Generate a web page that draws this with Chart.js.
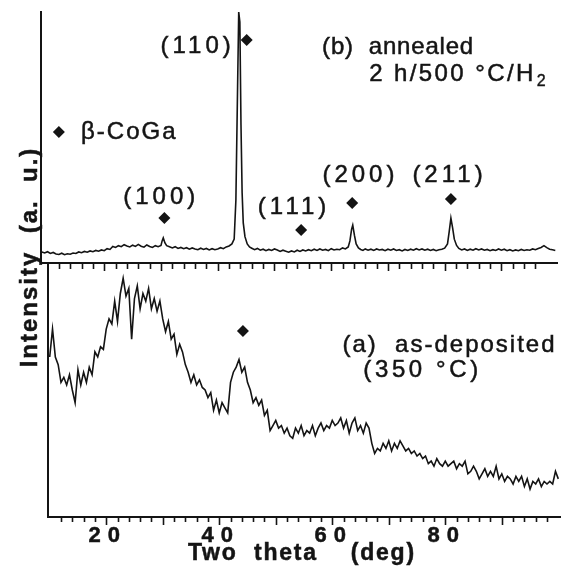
<!DOCTYPE html>
<html>
<head>
<meta charset="utf-8">
<script src="https://cdn.jsdelivr.net/npm/chart.js@4.4.1/dist/chart.umd.min.js"></script>
<style>
  html, body { margin: 0; padding: 0; background: #fff; }
  #wrap { position: relative; width: 562px; height: 567px; }
  #wrap canvas { position: absolute; left: 0; top: 0; }
</style>
</head>
<body>
<div id="wrap">
  <canvas id="bottom" width="562" height="567"></canvas>
  <canvas id="top" width="562" height="567"></canvas>
</div>
<script>
// (b) annealed 2 h/500 C/H2 - two theta (deg) and intensity (a. u.)
const topTheta = [
  9.0, 9.5, 10.0, 10.5, 11.0, 11.5, 12.0, 12.5, 13.0, 13.5, 14.0, 14.5, 15.0, 15.5, 16.0, 16.5,
  17.0, 17.5, 18.0, 18.5, 19.0, 19.5, 20.0, 20.5, 21.0, 21.5, 22.0, 22.5, 23.0, 23.5, 24.0, 24.5,
  25.0, 25.5, 26.0, 26.5, 27.0, 27.5, 28.0, 28.5, 29.0, 29.5, 30.0, 30.2, 30.4, 30.7, 31.0, 31.5,
  32.0, 32.5, 33.0, 33.5, 34.0, 34.5, 35.0, 35.5, 36.0, 36.5, 37.0, 37.5, 38.0, 38.5, 39.0, 39.5,
  40.0, 40.5, 41.0, 41.5, 42.0, 42.5, 42.9, 43.2, 43.5, 43.7, 43.9, 44.1, 44.3, 44.5, 44.8, 45.2,
  45.6, 46.0, 46.5, 47.0, 47.5, 48.0, 48.5, 49.0, 49.5, 50.0, 50.5, 51.0, 51.5, 52.0, 52.5, 53.0,
  53.5, 54.0, 54.5, 55.0, 55.5, 56.0, 56.5, 57.0, 57.5, 58.0, 58.5, 59.0, 59.5, 60.0, 60.5, 61.0,
  61.5, 62.0, 62.5, 63.0, 63.3, 63.6, 63.8, 64.1, 64.4, 64.8, 65.2, 65.6, 66.0, 66.5, 67.0, 67.5,
  68.0, 68.5, 69.0, 69.5, 70.0, 70.5, 71.0, 71.5, 72.0, 72.5, 73.0, 73.5, 74.0, 74.5, 75.0, 75.5,
  76.0, 76.5, 77.0, 77.5, 78.0, 78.5, 79.0, 79.5, 80.0, 80.5, 80.8, 81.1, 81.4, 81.7, 82.1, 82.5,
  83.0, 83.5, 84.0, 84.5, 85.0, 85.5, 86.0, 86.5, 87.0, 87.5, 88.0, 88.5, 89.0, 89.5, 90.0, 90.5,
  91.0, 91.5, 92.0, 92.5, 93.0, 93.5, 94.0, 94.5, 95.0, 95.5, 96.0, 96.5, 97.0, 97.5, 98.0, 98.5,
  99.0, 99.5
];
const topCounts = [
  4.4, 4.0, 4.5, 3.8, 4.2, 3.6, 3.4, 3.9, 3.3, 3.7, 3.5, 4.0, 3.8, 4.4, 4.1, 4.6,
  4.3, 4.8, 4.5, 5.0, 4.7, 5.2, 4.9, 5.7, 5.4, 6.6, 6.2, 6.9, 6.5, 7.3, 6.8, 6.4,
  7.1, 6.6, 7.4, 6.7, 6.3, 7.2, 6.6, 6.2, 6.9, 6.5, 7.0, 8.8, 10.0, 8.0, 6.9, 6.5,
  6.0, 6.5, 5.8, 6.2, 5.7, 6.1, 5.5, 6.0, 5.6, 5.3, 5.9, 5.4, 5.8, 5.2, 5.7, 5.3,
  5.6, 6.1, 5.7, 6.4, 6.8, 7.6, 9.5, 25, 70, 100, 96, 55, 28, 16, 10.5, 7.6,
  6.4, 5.9, 5.3, 5.8, 5.1, 5.5, 4.9, 5.4, 5.0, 5.6, 5.2, 4.6, 5.1, 4.7, 4.3, 4.8,
  4.4, 5.1, 4.6, 5.2, 4.8, 5.3, 4.9, 5.5, 5.0, 5.6, 5.1, 5.4, 4.9, 5.7, 5.2, 5.5,
  5.3, 6.0, 5.6, 6.4, 8.8, 13.5, 15.1, 11.0, 7.6, 6.0, 5.4, 5.0, 5.6, 5.1, 5.5, 5.0,
  5.6, 5.2, 5.4, 4.9, 5.5, 5.1, 5.6, 5.0, 5.3, 4.8, 5.4, 5.0, 5.5, 5.1, 5.7, 5.2,
  5.6, 5.1, 5.5, 5.0, 5.4, 4.9, 5.3, 5.5, 5.9, 7.6, 12.5, 17.9, 14.0, 9.5, 7.0, 5.8,
  5.2, 5.6, 5.0, 5.5, 5.1, 5.7, 5.2, 5.6, 5.1, 5.4, 4.9, 5.3, 5.0, 5.6, 5.1, 5.5,
  4.9, 5.3, 4.8, 5.2, 4.9, 5.4, 5.0, 5.3, 5.1, 5.6, 5.3, 5.8, 6.2, 6.9, 6.1, 5.5,
  5.3, 5.0
];
// beta-CoGa reflection markers (diamonds) in panel (b)
const topMarkTheta = [12.0, 30.6, 45.1, 54.7, 63.7, 81.1];
const topMarkLevel = [52.2, 17.9, 88.8, 13.1, 23.9, 25.5];

// (a) as-deposited (350 C)
const bottomTheta = [
  10.0, 10.5, 11.0, 11.5, 12.0, 12.5, 13.0, 13.5, 14.0, 14.5, 15.0, 15.5, 16.0, 16.5, 17.0, 17.5,
  18.0, 18.5, 19.0, 19.5, 20.0, 20.5, 21.0, 21.5, 22.0, 22.5, 23.0, 23.5, 24.0, 24.5, 25.0, 25.5,
  26.0, 26.5, 27.0, 27.5, 28.0, 28.5, 29.0, 29.5, 30.0, 30.5, 31.0, 31.5, 32.0, 32.5, 33.0, 33.5,
  34.0, 34.5, 35.0, 35.5, 36.0, 36.5, 37.0, 37.5, 38.0, 38.5, 39.0, 39.5, 40.0, 40.5, 41.0, 41.5,
  42.0, 42.5, 43.0, 43.5, 44.0, 44.5, 45.0, 45.5, 46.0, 46.5, 47.0, 47.5, 48.0, 48.5, 49.0, 49.5,
  50.0, 50.5, 51.0, 51.5, 52.0, 52.5, 53.0, 53.5, 54.0, 54.5, 55.0, 55.5, 56.0, 56.5, 57.0, 57.5,
  58.0, 58.5, 59.0, 59.5, 60.0, 60.5, 61.0, 61.5, 62.0, 62.5, 63.0, 63.5, 64.0, 64.5, 65.0, 65.5,
  66.0, 66.5, 67.0, 67.5, 68.0, 68.5, 69.0, 69.5, 70.0, 70.5, 71.0, 71.5, 72.0, 72.5, 73.0, 73.5,
  74.0, 74.5, 75.0, 75.5, 76.0, 76.5, 77.0, 77.5, 78.0, 78.5, 79.0, 79.5, 80.0, 80.5, 81.0, 81.5,
  82.0, 82.5, 83.0, 83.5, 84.0, 84.5, 85.0, 85.5, 86.0, 86.5, 87.0, 87.5, 88.0, 88.5, 89.0, 89.5,
  90.0, 90.5, 91.0, 91.5, 92.0, 92.5, 93.0, 93.5, 94.0, 94.5, 95.0, 95.5, 96.0, 96.5, 97.0, 97.5,
  98.0, 98.5, 99.0, 99.5, 100.0
];
const bottomCounts = [
  63, 74, 63, 60, 53, 55, 52, 56, 50, 45, 58, 52, 57, 53, 59, 56,
  65, 63, 67, 66, 74, 78, 76, 85, 77, 88, 94, 87, 90, 70, 86, 91,
  82, 88, 85, 90, 82, 86, 81, 85, 78, 73, 77, 70, 72, 64, 68, 65,
  60, 57, 53, 56, 52, 54, 51, 50, 47, 49, 42, 46, 41, 45, 43, 41,
  53, 57, 59, 62, 57, 59, 53, 50, 45, 47, 44, 46, 40, 42, 34, 36,
  38, 35, 36, 33, 35, 32, 31, 35, 33, 36, 32, 34, 33, 36, 32, 35,
  37, 34, 36, 35, 38, 36, 37, 39, 35, 38, 33, 37, 39, 34, 36, 33,
  37, 35, 29, 25, 27, 26, 29, 27, 30, 26, 29, 27, 30, 28, 26, 27,
  25, 26, 24, 25, 23, 24, 21, 22, 20, 23, 21, 20, 22, 20, 21, 22,
  19, 21, 20, 22, 17, 18, 20, 18, 15, 17, 19, 16, 18, 16, 20, 15,
  17, 14, 16, 15, 13, 16, 14, 16, 12, 15, 11, 14, 13, 15, 12, 14,
  13, 14, 13, 18, 15
];
const bottomMarkTheta = [44.2];
const bottomMarkLevel = [73.2];

// annotation texts, placed in data units
const topLabelText = ['(110)', '(b)  annealed', '2 h/500 °C/H', 'β-CoGa', '(100)', '(111)', '(200)', '(211)'];
const topLabelSub = ['', '', '2', '', '', '', '', ''];
const topLabelTheta = [42.3, 58.4, 66.7, 15.9, 29.7, 53.1, 64.8, 80.5];
const topLabelLevel = [86.5, 86.1, 75.3, 52.2, 26.3, 22.3, 35.1, 35.1];
const topLabelAlign = ['right', 'left', 'left', 'left', 'center', 'center', 'center', 'center'];
const topLabelSpacing = [4, 0.8, 2.4, 2, 4, 4, 4, 4];

const bottomLabelText = ['(a)  as-deposited', '(350 °C)'];
const bottomLabelSub = ['', ''];
const bottomLabelTheta = [61.8, 65.5];
const bottomLabelLevel = [67.7, 57.9];
const bottomLabelAlign = ['left', 'left'];
const bottomLabelSpacing = [2, 3.6];

const xTickLabels = [20, 40, 60, 80];

const INK = '#141414';
const FONT = '"Liberation Sans", Arial, Helvetica, sans-serif';

function toPoints(xs, ys) {
  return xs.map((x, i) => ({ x: x, y: ys[i] }));
}

function inkText(ctx, t, x, y, weight) {
  ctx.fillText(t, x, y);
  ctx.lineWidth = weight;
  ctx.strokeText(t, x, y);
}

// draws text labels at data positions
function labelPlugin(texts, subs, thetas, levels, aligns, spacings) {
  return {
    id: 'labels',
    afterDatasetsDraw(chart) {
      const ctx = chart.ctx, xs = chart.scales.x, ys = chart.scales.y;
      ctx.save();
      ctx.fillStyle = INK;
      ctx.strokeStyle = INK;
      ctx.textBaseline = 'middle';
      ctx.textAlign = 'left';
      texts.forEach((t, i) => {
        ctx.font = '24px ' + FONT;
        ctx.letterSpacing = spacings[i] + 'px';
        const w = ctx.measureText(t).width - spacings[i];
        let subW = 0;
        if (subs[i]) {
          ctx.font = '16px ' + FONT;
          subW = ctx.measureText(subs[i]).width + 1;
          ctx.font = '24px ' + FONT;
        }
        const total = w + subW;
        const px = xs.getPixelForValue(thetas[i]);
        const py = ys.getPixelForValue(levels[i]);
        let x0 = px;
        if (aligns[i] === 'right') x0 = px - total;
        if (aligns[i] === 'center') x0 = px - total / 2;
        inkText(ctx, t, x0, py, 0.5);
        if (subs[i]) {
          ctx.font = '16px ' + FONT;
          ctx.letterSpacing = '0px';
          inkText(ctx, subs[i], x0 + w + spacings[i] + 1, py + 8, 0.4);
        }
      });
      ctx.restore();
    }
  };
}

// minor ticks every 2 deg, longer ones every 10 deg
function tickPlugin(minorLen, majorLen) {
  return {
    id: 'ticks',
    afterDraw(chart) {
      const ctx = chart.ctx, xs = chart.scales.x;
      const y0 = chart.chartArea.bottom;
      ctx.save();
      ctx.strokeStyle = INK;
      ctx.lineWidth = 1.6;
      xs.ticks.forEach(t => {
        const v = Math.round(t.value * 10) / 10;
        if (v % 2 !== 0) return;
        const px = Math.round(xs.getPixelForValue(v)) + 0.5;
        const len = v % 10 === 0 ? majorLen : minorLen;
        ctx.beginPath();
        ctx.moveTo(px, y0);
        ctx.lineTo(px, y0 + len);
        ctx.stroke();
      });
      ctx.restore();
    }
  };
}

const axisTitlePlugin = {
  id: 'axisTitles',
  afterDraw(chart) {
    const ctx = chart.ctx, xs = chart.scales.x, area = chart.chartArea;
    ctx.save();
    ctx.fillStyle = INK;
    ctx.strokeStyle = INK;
    ctx.font = 'bold 22px ' + FONT;
    ctx.textBaseline = 'middle';
    ctx.textAlign = 'left';
    ctx.letterSpacing = '7px';
    xTickLabels.forEach(v => {
      const t = String(v);
      const w = ctx.measureText(t).width - 7;
      inkText(ctx, t, xs.getPixelForValue(v) - w / 2 - 2, area.bottom + 19, 0.5);
    });
    ctx.font = 'bold 23px ' + FONT;
    ctx.letterSpacing = '1.8px';
    const title = 'Two  theta    (deg)';
    const tw = ctx.measureText(title).width - 1.8;
    inkText(ctx, title, (area.left + area.right) / 2 - tw / 2 - 3, area.bottom + 37, 0.5);

    ctx.font = 'bold 24px ' + FONT;
    ctx.letterSpacing = '2px';
    const yt = 'Intensity  (a.  u.)';
    const yw = ctx.measureText(yt).width - 2;
    ctx.translate(37, 258);
    ctx.rotate(-Math.PI / 2);
    ctx.textBaseline = 'alphabetic';
    inkText(ctx, yt, -yw / 2, 0, 0.5);
    ctx.restore();
  }
};

function makeOptions(xMin, xMax, yWidth, xHeight, padTop, padRight) {
  return {
    responsive: false,
    animation: false,
    events: [],
    layout: { autoPadding: false, padding: { left: 0, top: padTop, right: padRight, bottom: 0 } },
    plugins: { legend: { display: false }, tooltip: { enabled: false } },
    scales: {
      x: {
        type: 'linear', min: xMin, max: xMax,
        ticks: { display: false, stepSize: 2 },
        grid: { display: false, drawTicks: false },
        border: { display: true, width: 2, color: INK },
        afterFit(s) { s.height = xHeight; }
      },
      y: {
        type: 'linear', min: 0, max: 100,
        ticks: { display: false },
        grid: { display: false, drawTicks: false },
        border: { display: true, width: 2, color: INK },
        afterFit(s) { s.width = yWidth; }
      }
    }
  };
}

new Chart(document.getElementById('top'), {
  type: 'line',
  data: {
    datasets: [
      {
        data: toPoints(topTheta, topCounts),
        borderColor: INK, borderWidth: 1.6, pointRadius: 0, tension: 0
      },
      {
        data: toPoints(topMarkTheta, topMarkLevel),
        showLine: false, pointStyle: 'rectRot', pointRadius: 6,
        backgroundColor: INK, borderColor: INK, borderWidth: 0
      }
    ]
  },
  options: makeOptions(8.85, 99.8, 41, 304, 12, 5),
  plugins: [
    tickPlugin(6, 8),
    labelPlugin(topLabelText, topLabelSub, topLabelTheta, topLabelLevel, topLabelAlign, topLabelSpacing)
  ]
});

new Chart(document.getElementById('bottom'), {
  type: 'line',
  data: {
    datasets: [
      {
        data: toPoints(bottomTheta, bottomCounts),
        borderColor: INK, borderWidth: 1.6, pointRadius: 0, tension: 0
      },
      {
        data: toPoints(bottomMarkTheta, bottomMarkLevel),
        showLine: false, pointStyle: 'rectRot', pointRadius: 6,
        backgroundColor: INK, borderColor: INK, borderWidth: 0
      }
    ]
  },
  options: makeOptions(9.7, 100.3, 48, 50, 263, 2),
  plugins: [
    tickPlugin(5, 8),
    labelPlugin(bottomLabelText, bottomLabelSub, bottomLabelTheta, bottomLabelLevel, bottomLabelAlign, bottomLabelSpacing),
    axisTitlePlugin
  ]
});
</script>
</body>
</html>
